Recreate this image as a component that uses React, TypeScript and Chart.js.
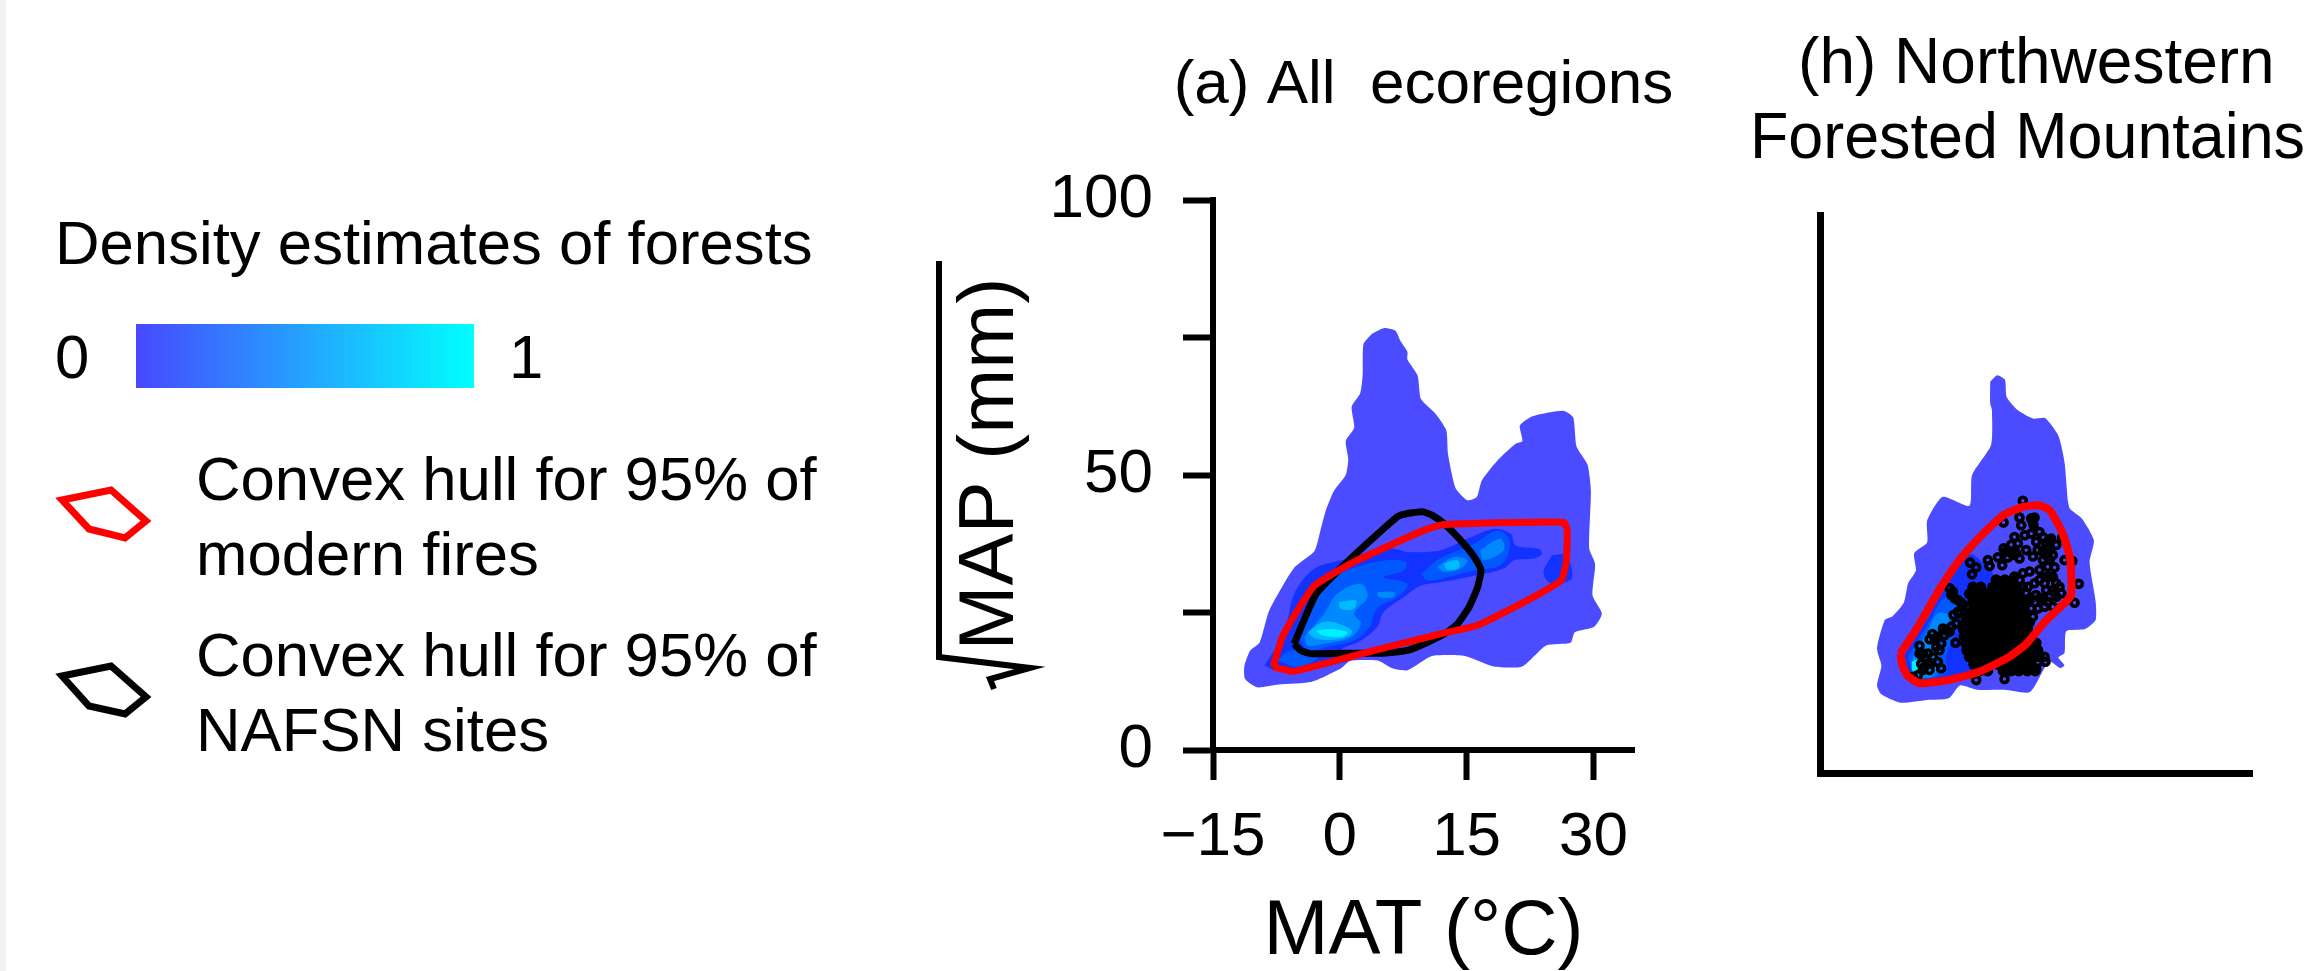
import React, { useEffect, useRef } from "react";
import { Chart, registerables } from "chart.js";

Chart.register(...registerables);

const FONT = '"Liberation Sans", Arial, sans-serif';

type P = [number, number];

// ---------- Panel (a) All ecoregions ----------
const allForest: P[] = [[3.8,75.7],[5.2,76.7],[6.6,76.2],[7.2,74.3],[8.0,72.4],[8.0,71.0],[9.2,68.1],[9.6,63.8],[11.4,61.0],[12.6,58.1],[12.8,53.8],[13.7,47.6],[15.1,45.4],[16.2,46.0],[16.8,49.0],[18.8,52.9],[20.8,55.7],[21.6,56.2],[21.3,59.0],[22.8,60.7],[26.4,61.7],[27.6,60.5],[28.0,55.2],[29.3,51.9],[29.7,47.1],[29.5,36.7],[30.2,33.8],[29.9,28.1],[31.0,24.8],[30.1,22.4],[27.8,21.4],[27.3,19.5],[24.4,19.0],[21.6,15.2],[18.2,15.2],[14.8,17.1],[10.9,17.1],[8.0,14.5],[6.3,14.8],[4.6,16.2],[1.2,16.2],[0.1,14.8],[-3.3,12.4],[-7.2,11.9],[-9.8,11.4],[-11.2,12.9],[-11.3,15.2],[-10.6,18.1],[-9.5,19.5],[-8.4,25.2],[-6.7,30.0],[-5.3,33.3],[-3.0,36.2],[-2.2,40.5],[-1.6,43.8],[-0.7,47.1],[0.7,50.0],[1.0,52.9],[0.7,56.2],[1.7,58.6],[1.4,62.4],[2.4,64.8],[2.7,68.1],[2.8,73.8],[3.8,75.7]];
const allL1a: P[] = [[-8.9,15.4],[-7.75,18.1],[-6.8,20.5],[-6.0,24.8],[-5.8,26.6],[-5.0,29.6],[-3.0,33.0],[-0.7,34.2],[1.3,34.8],[6.0,36.6],[8.0,36.0],[11.9,36.3],[15.1,38.4],[18.2,40.2],[20.2,39.3],[20.8,37.2],[23.5,36.6],[23.9,35.7],[22.9,34.8],[20.6,34.5],[19.4,33.0],[15.9,31.7],[11.9,30.5],[9.6,29.9],[7.6,27.8],[5.2,25.1],[4.4,22.3],[2.5,19.9],[0.1,18.1],[1.3,16.6],[-0.3,15.7],[-3.0,14.8],[-5.4,14.2],[-7.75,14.5],[-8.9,15.4]];
const allL1b: P[] = [[25.1,35.4],[26.7,35.4],[27.5,31.4],[26.1,30.2],[24.7,30.5],[24.1,32.4],[25.1,35.4]];
const allL2a: P[] = [[-4.8,20.5],[-3.2,26.6],[-0.7,31.4],[2.1,33.3],[5.6,34.5],[7.8,34.2],[7.6,32.7],[5.2,31.4],[8.0,30.2],[6.8,27.8],[4.4,25.7],[3.5,22.3],[1.7,19.9],[-1.5,18.7],[-3.8,18.1],[-4.8,20.5]];
const allL2b: P[] = [[9.6,32.0],[11.5,34.5],[13.5,36.0],[15.9,37.5],[18.6,39.9],[20.0,38.4],[19.8,35.1],[18.6,33.3],[15.9,32.7],[12.7,31.4],[10.4,30.8],[9.6,32.0]];
const allL2c: P[] = [[-7.4,16.3],[-5.8,18.1],[-2.6,16.9],[-5.0,15.1],[-7.4,16.3]];
const allL3a: P[] = [[-4.2,20.5],[-1.85,24.8],[-0.3,28.4],[2.5,30.2],[3.3,27.8],[1.7,24.8],[2.5,23.0],[1.3,20.5],[-1.85,19.3],[-3.8,19.0],[-4.2,20.5]];
const allL3b: P[] = [[11.5,33.3],[13.5,35.1],[15.1,34.5],[14.3,33.0],[12.3,32.4],[11.5,33.3]];
const allL3c: P[] = [[4.4,28.7],[6.4,28.7],[6.4,27.8],[4.6,27.8],[4.4,28.7]];
const allL3d: P[] = [[16.6,36.3],[19.0,38.4],[19.4,36.3],[17.0,34.5],[16.6,36.3]];
const allL4a: P[] = [[-3.8,21.4],[-1.85,23.3],[0.5,22.6],[1.5,21.4],[0.1,20.2],[-2.8,20.2],[-3.8,21.4]];
const allL4b: P[] = [[12.3,33.9],[13.9,34.5],[14.1,33.1],[12.7,32.8],[12.3,33.9]];
const allL4c: P[] = [[-0.1,26.9],[1.9,27.2],[1.7,25.7],[0.1,25.7],[-0.1,26.9]];
const allL5: P[] = [[-2.8,21.7],[-1.1,22.0],[0.9,21.4],[0.3,20.6],[-2.0,20.8],[-2.8,21.7]];
const allNafsnHull: P[] = [[-5.4,19.3],[-4.4,23.0],[-2.8,28.4],[1.3,34.8],[6.8,42.4],[8.0,43.0],[9.8,43.3],[10.9,42.7],[12.3,41.2],[14.3,38.1],[15.9,35.1],[16.7,32.8],[16.3,29.6],[15.3,26.0],[13.9,22.9],[12.7,21.4],[10.4,19.6],[8.0,18.1],[5.2,17.6],[0.1,17.6],[-3.4,17.5],[-4.6,18.1],[-5.4,19.3]];
const allFireHull: P[] = [[-7.9,15.1],[-6.8,20.5],[-5.0,25.4],[-3.0,29.9],[1.3,33.9],[7.2,38.1],[10.4,40.2],[12.3,41.0],[15.9,41.2],[26.5,41.4],[26.9,39.9],[26.8,34.5],[26.3,31.1],[25.3,29.9],[21.8,26.9],[16.3,22.7],[11.9,21.1],[4.1,18.1],[-5.4,14.3],[-7.0,14.8],[-7.9,15.1]];

// ---------- Panel (h) Northwestern Forested Mountains ----------
const nwForest: P[] = [[4.7,70.1],[5.5,71.3],[6.4,70.5],[6.6,67.4],[7.9,65.0],[9.7,63.5],[11.05,63.6],[12.6,60.4],[13.3,55.7],[13.7,48.7],[13.95,47.3],[15.3,45.6],[16.7,41.7],[16.2,37.8],[16.9,30.8],[16.9,27.4],[15.7,25.8],[13.5,25.4],[13.3,21.5],[12.6,20.7],[13.3,19.3],[12.8,18.8],[11.5,20.0],[9.3,14.5],[6.4,14.9],[3.2,14.9],[1.2,15.7],[-0.1,13.4],[-2.6,13.1],[-5.7,12.6],[-7.9,14.1],[-8.4,15.7],[-7.9,19.2],[-8.4,22.3],[-7.5,27.4],[-6.6,28.1],[-5.3,30.5],[-4.8,34.0],[-3.9,36.3],[-4.1,39.4],[-2.6,41.3],[-2.6,45.2],[-0.8,49.5],[2.3,47.9],[2.6,53.4],[4.8,58.8],[4.9,65.0],[4.7,66.2],[4.7,70.1]];
const nwL1: P[] = [[-5.4,20.8],[-3.1,26.2],[-0.4,33.4],[2.3,39.1],[3.5,38.2],[5.0,35.8],[4.6,31.0],[2.3,25.6],[1.9,20.2],[2.7,18.4],[-0.4,17.3],[-3.9,16.7],[-5.4,20.8]];
const nwL2: P[] = [[-4.8,20.8],[-2.7,26.2],[-0.4,31.6],[1.9,30.4],[0.8,25.6],[-0.4,20.8],[-0.4,17.9],[-3.9,17.2],[-4.8,20.8]];
const nwL3: P[] = [[-4.25,20.8],[-2.7,25.0],[-1.4,28.6],[0,28.0],[-1.2,23.2],[-1.4,20.2],[-1.9,17.3],[-3.9,17.55],[-4.25,20.8]];
const nwL4a: P[] = [[-4.4,20],[-3.7,20.2],[-3.5,18.2],[-4.25,18.2],[-4.4,20]];
const nwL4b: P[] = [[-1.9,22.3],[-1.2,22.3],[-1.2,21.1],[-1.9,21.1],[-1.9,22.3]];
const nwFireHull: P[] = [[-5.7,21.4],[-3.9,25.6],[-1.2,32.8],[1.15,38.2],[3.5,42.3],[6.2,46.2],[8.5,47.7],[10.4,48.0],[11.6,47.1],[13.1,42.9],[13.9,38.8],[14.1,34.6],[14.0,31.6],[11.2,27.4],[8.9,23.2],[6.9,20.8],[3.5,18.2],[0,16.7],[-3.5,16.1],[-4.8,17.3],[-5.4,19.0],[-5.7,21.4]];
const nwSitesSparse: P[] = [[8.48,48.8],[6.24,44.9],[8.09,45.8],[8.29,44.4],[9.64,45.3],[9.71,44.4],[7.5,42.3],[8.7,42.6],[9.44,42.9],[10.4,43.2],[10.8,42.3],[11.76,42.0],[13.03,42.2],[6.55,39.7],[7.13,40.9],[7.9,41.15],[7.7,39.4],[8.87,39.95],[10.2,39.95],[11.18,41.15],[11.57,39.95],[9.64,38.8],[10.8,38.15],[11.95,39.05],[13.3,38.15],[14.2,38.0],[12.15,36.85],[11.57,38.15],[4.43,38.15],[4.62,37.1],[5.6,38.65],[6.09,37.25],[2.38,37.7],[3.08,36.85],[2.6,35.6],[14.96,33.9],[14.46,30.5],[8.48,35.8],[7.5,35.2],[9.25,36.1],[10.4,36.4],[11.57,35.2],[12.34,34.0],[12.92,32.2],[11.18,32.8],[8.48,33.4],[9.83,34.0],[11.0,34.0],[12.34,31.6],[11.0,29.8],[11.95,29.8],[9.25,31.3],[9.44,29.5],[7.9,31.6],[8.87,32.2],[10.0,31.9],[10.8,31.3],[9.64,28.0],[0,33.1],[0.2,31.9],[0.96,31.0],[1.34,30.5],[2.0,29.8],[0.96,28.9],[0.45,28.3],[1.15,28.6],[-0.39,25.6],[0.2,26.2],[-0.6,24.7],[0.76,26.8],[0.69,23.35],[-2.0,24.9],[-1.36,24.4],[-0.97,23.2],[-1.55,22.6],[-1.17,22.0],[-3.48,22.8],[-3.1,21.4],[-2.5,21.4],[-1.94,20.8],[-3.29,19.6],[-2.5,19.6],[-3.1,18.45],[-2.32,18.45],[-1.36,19.9],[-0.97,18.75],[-3.67,17.55],[-4.25,17.25],[3.08,16.65],[6.36,16.85],[10.2,19.76],[11.1,19.94],[10.4,20.8],[6.24,40.25],[6.74,38.64],[7.32,39.06],[8.09,38.46],[11.18,39.95],[10.8,39.66],[11.37,36.97],[11.95,35.18],[11.18,35.18],[12.72,33.38],[11.95,32.8],[11.57,31.6],[10.41,34.58],[9.06,33.38],[8.09,34.58],[10.22,29.5],[8.67,28.9],[10.41,31.3],[11.37,30.7],[12.15,32.2],[10.02,41.45],[11.57,41.45],[12.34,40.85],[11.37,38.76],[9.64,45.03],[9.83,45.8],[9.44,45.63],[0.57,31.3],[0.38,32.5],[1.54,30.1],[0,25.3],[-0.78,25.9],[-2.32,23.95],[-1.74,24.1],[-2.71,20.54],[-2.9,19.05],[-2.13,19.65],[-3.48,21.4],[10.02,21.43],[10.99,20.84],[9.25,19.05],[10.02,18.75]];
const nwSitesDense: P[] = [[5.4,34.6],[6.4,34.6],[7.3,34.6],[2.7,33.3],[3.6,33.3],[5.0,33.3],[5.9,33.3],[6.9,33.3],[7.8,33.3],[2.3,32.1],[3.2,32.1],[4.2,32.1],[5.0,32.1],[5.9,32.1],[6.9,32.1],[7.8,32.1],[2.7,30.8],[3.6,30.8],[4.5,30.8],[5.5,30.8],[6.4,30.8],[7.3,30.8],[8.2,30.8],[9.2,30.8],[3.1,29.6],[4.0,29.6],[4.9,29.6],[5.9,29.6],[6.8,29.6],[7.7,29.6],[8.6,29.6],[2.3,28.3],[3.2,28.3],[4.2,28.3],[5.1,28.3],[6.0,28.3],[6.9,28.3],[7.9,28.3],[8.8,28.3],[1.85,27.0],[2.8,27.0],[3.7,27.0],[4.6,27.0],[5.6,27.0],[6.5,27.0],[7.4,27.0],[8.3,27.0],[9.25,27.0],[1.6,25.8],[2.5,25.8],[3.5,25.8],[4.4,25.8],[5.3,25.8],[6.2,25.8],[7.2,25.8],[8.1,25.8],[9.0,25.8],[1.7,24.5],[2.7,24.5],[3.6,24.5],[4.5,24.5],[5.5,24.5],[6.4,24.5],[7.3,24.5],[8.25,24.5],[9.25,24.5],[1.85,23.3],[2.8,23.3],[3.7,23.3],[4.6,23.3],[5.6,23.3],[6.5,23.3],[7.4,23.3],[8.3,23.3],[9.25,23.3],[10.0,23.3],[2.0,22.0],[2.9,22.0],[3.85,22.0],[4.8,22.0],[5.7,22.0],[6.6,22.0],[7.55,22.0],[8.5,22.0],[9.4,22.0],[10.2,22.0],[2.3,20.8],[3.2,20.8],[4.2,20.8],[5.1,20.8],[6.0,20.8],[6.9,20.8],[7.9,20.8],[8.8,20.8],[9.7,20.8],[2.8,19.5],[3.7,19.5],[4.6,19.5],[5.55,19.5],[6.5,19.5],[7.4,19.5],[8.3,19.5],[9.25,19.5],[3.5,18.3],[4.4,18.3],[6.2,18.3],[7.1,18.3],[8.0,18.3],[9.0,18.3],[9.9,18.3]];

// ---------- Axes and text ----------
const xTickValues = [-15, 0, 15, 30];
const xTickLabels = ["\u221215", "0", "15", "30"];
const yTickValues = [0, 25, 50, 75, 100];
const yTickLabels = ["0", "", "50", "", "100"];
const legendItems = ["Convex hull for 95% of\nmodern fires", "Convex hull for 95% of\nNAFSN sites"];

const BASE = "#4B4BFF";
const L1 = "#1232FF";
const L2 = "#0058FF";
const L3 = "#0088FF";
const L4 = "#00BBFF";
const L5 = "#00F0FF";
const RED = "#FF0000";
const SOFT = "blur(0.6px)";

const xy = (pts: P[]) => pts.map(([x, y]) => ({ x, y }));
const area = (pts: P[], color: string, tension = 0.35) => ({
  data: xy(pts), backgroundColor: color, borderColor: color, borderWidth: 0,
  fill: "shape", showLine: true, pointRadius: 0, tension,
});
const hull = (pts: P[], color: string, width: number) => ({
  data: xy(pts), borderColor: color, borderWidth: width, fill: false,
  showLine: true, pointRadius: 0, tension: 0.15, borderJoinStyle: "round",
});
const spacer = (width: number) => ({
  type: "linear", position: "right", display: true,
  afterFit: (s: any) => { s.width = width; },
  border: { display: false }, grid: { display: false }, ticks: { display: false },
});

const radical = {
  id: "radical",
  afterDraw(chart: any) {
    const c = chart.ctx;
    c.save();
    c.strokeStyle = "#000";
    c.lineWidth = 6;
    c.lineJoin = "miter";
    c.beginPath();
    c.moveTo(39, 261);
    c.lineTo(39, 657);
    c.lineTo(130, 668);
    c.lineTo(90, 679);
    c.lineTo(94, 689);
    c.stroke();
    c.restore();
  },
};

function PanelA() {
  const ref = useRef<HTMLCanvasElement>(null);
  useEffect(() => {
    const chart = new Chart(ref.current!, {
      type: "line",
      plugins: [radical],
      data: {
        datasets: [
          hull(allFireHull, RED, 7),
          hull(allNafsnHull, "#000", 7),
          area(allL5, L5), area(allL4a, L4), area(allL4b, L4), area(allL4c, L4),
          area(allL3a, L3), area(allL3b, L3), area(allL3c, L3), area(allL3d, L3),
          area(allL2a, L2), area(allL2b, L2), area(allL2c, L2),
          area(allL1a, L1), area(allL1b, L1),
          area(allForest, BASE, 0.2),
        ] as any,
      },
      options: {
        animation: false, responsive: false, events: [],
        plugins: {
          legend: { display: false }, tooltip: { enabled: false },
          title: {
            display: true, text: "(a) All  ecoregions", color: "#000",
            font: { family: FONT, size: 62, weight: "normal", lineHeight: 75 / 62 },
            padding: { top: 48, bottom: 77 },
          },
        },
        scales: {
          x: {
            type: "linear", min: -15, max: 34.8,
            afterFit: (s: any) => { s.height = 221; },
            afterBuildTicks: (s: any) => { s.ticks = xTickValues.map((value) => ({ value })); },
            border: { color: "#000", width: 6 },
            grid: { drawOnChartArea: false, drawTicks: true, tickLength: 30, tickWidth: 6, tickColor: "#000" },
            ticks: {
              color: "#000", padding: 21, maxRotation: 0, autoSkip: false,
              font: { family: FONT, size: 62 },
              callback: (v: any) => xTickLabels[xTickValues.indexOf(v)],
            },
            title: { display: true, text: "MAT (\u00B0C)", color: "#000", font: { family: FONT, size: 78, lineHeight: 1 }, padding: { top: 0, bottom: 0 } },
          },
          y: {
            type: "linear", min: 0, max: 100,
            afterFit: (s: any) => { s.width = 313; },
            afterBuildTicks: (s: any) => { s.ticks = yTickValues.map((value) => ({ value })); },
            border: { color: "#000", width: 6 },
            grid: { drawOnChartArea: false, drawTicks: true, tickLength: 30, tickWidth: 6, tickColor: "#000" },
            ticks: {
              color: "#000", padding: 30, autoSkip: false,
              font: { family: FONT, size: 62 },
              callback: (v: any) => yTickLabels[yTickValues.indexOf(v)],
            },
            title: { display: true, text: " MAP (mm)", color: "#000", font: { family: FONT, size: 78 }, padding: { top: 45, bottom: 0 } },
          },
          pad: spacer(313),
        },
      },
    } as any);
    return () => chart.destroy();
  }, []);
  return <canvas ref={ref} width={1047} height={971} style={{ position: "absolute", left: 900, top: 0, width: 1047, height: 971, filter: SOFT }} />;
}

function PanelH() {
  const ref = useRef<HTMLCanvasElement>(null);
  useEffect(() => {
    const chart = new Chart(ref.current!, {
      type: "line",
      data: {
        datasets: [
          hull(nwFireHull, RED, 8),
          { data: xy(nwSitesSparse), showLine: false, pointRadius: 3.5, pointBorderWidth: 3.6, pointBorderColor: "#000", pointBackgroundColor: "rgba(0,0,0,0)" },
          { data: xy(nwSitesDense), showLine: false, pointRadius: 5.6, pointBorderWidth: 0, pointBackgroundColor: "#000" },
          area(nwL4a, L5), area(nwL4b, L5),
          area(nwL3, L3), area(nwL2, L2), area(nwL1, L1),
          area(nwForest, BASE, 0.2),
        ] as any,
      },
      options: {
        animation: false, responsive: false, events: [],
        plugins: {
          legend: { display: false }, tooltip: { enabled: false },
          title: {
            display: true, text: [" (h) Northwestern", "Forested Mountains"], color: "#000",
            font: { family: FONT, size: 64, weight: "normal", lineHeight: 75 / 64 },
            padding: { top: 28, bottom: 37 },
          },
        },
        scales: {
          x: {
            type: "linear", min: -15, max: 35,
            afterFit: (s: any) => { s.height = 198; },
            border: { color: "#000", width: 7 },
            grid: { display: true, drawOnChartArea: false, drawTicks: false },
            ticks: { display: false },
          },
          y: {
            type: "linear", min: 0, max: 100,
            afterFit: (s: any) => { s.width = 70; },
            border: { color: "#000", width: 7 },
            grid: { display: true, drawOnChartArea: false, drawTicks: false },
            ticks: { display: false },
          },
          pad: spacer(53),
        },
      },
    } as any);
    return () => chart.destroy();
  }, []);
  return <canvas ref={ref} width={555} height={971} style={{ position: "absolute", left: 1750, top: 0, width: 555, height: 971, filter: SOFT }} />;
}

const text = (left: number, baseline: number, s: string) => (
  <div style={{ position: "absolute", left, top: baseline - 56, fontFamily: FONT, fontSize: 61.7, lineHeight: "70px", color: "#000", whiteSpace: "nowrap", filter: SOFT }}>{s}</div>
);

export default function App() {
  const [fires, sites] = legendItems.map((s) => s.split("\n"));
  return (
    <div style={{ position: "absolute", left: 0, top: 0, width: 2305, height: 971, background: "#fff", overflow: "hidden" }}>
      <div style={{ position: "absolute", left: 0, top: 0, width: 6, height: 971, background: "#F4F0EF" }} />
      {text(55, 264, "Density estimates of forests")}
      {text(55, 378, "0")}
      <div style={{ position: "absolute", left: 136, top: 324, width: 338, height: 64, background: "linear-gradient(90deg,#4848FF,#00FFFF)" }} />
      {text(509, 378, "1")}
      <svg width={170} height={300} style={{ position: "absolute", left: 40, top: 470, filter: SOFT }}>
        <polygon points="22,30 71,20 106,51 85,68 49,59" fill="none" stroke={RED} strokeWidth={7} />
        <polygon points="22,206 71,196 106,227 85,244 49,236" fill="none" stroke="#000" strokeWidth={7} />
      </svg>
      {text(196, 500, fires[0])}
      {text(196, 575, fires[1])}
      {text(196, 676, sites[0])}
      {text(196, 751, sites[1])}
      <PanelA />
      <PanelH />
    </div>
  );
}
